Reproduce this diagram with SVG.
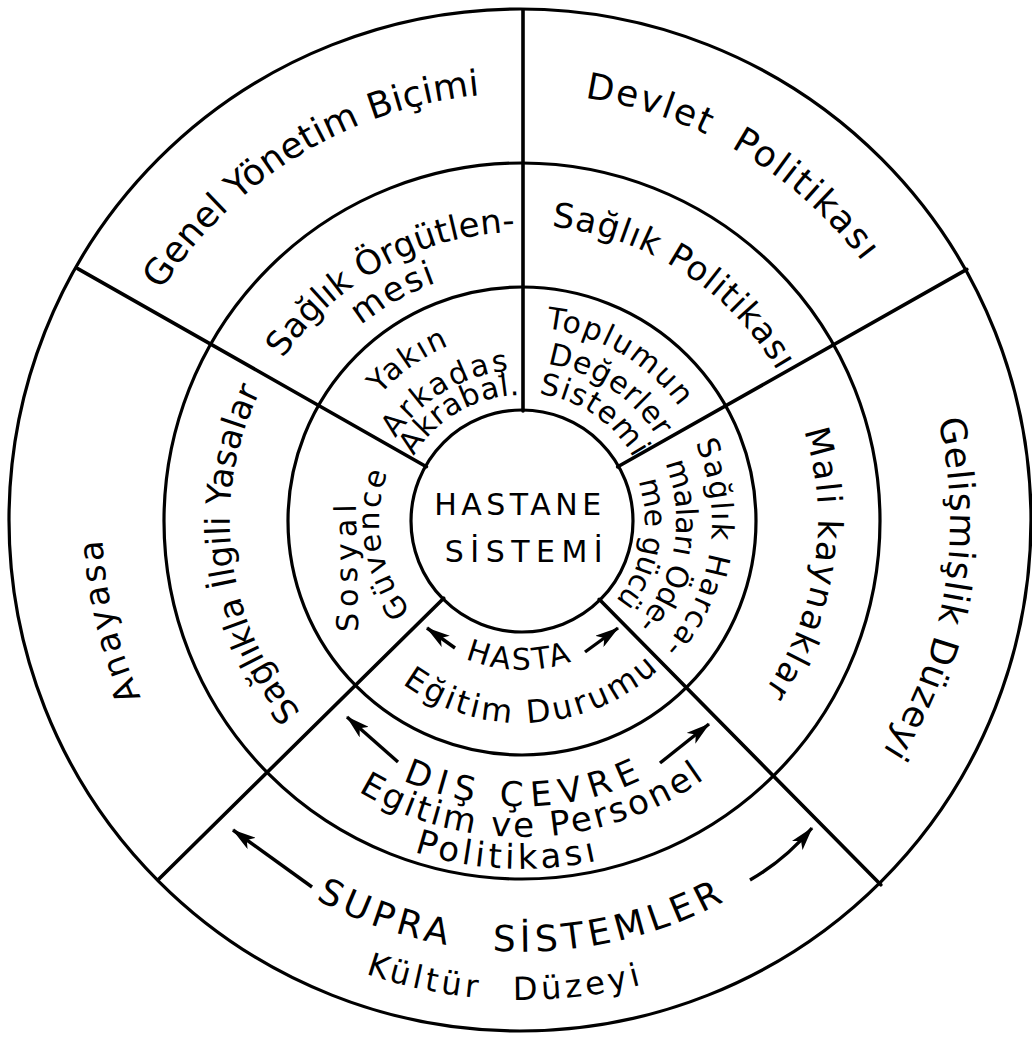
<svg xmlns="http://www.w3.org/2000/svg" width="1032" height="1041" viewBox="0 0 1032 1041">
<style>
.ring{fill:none;stroke:#000;stroke-width:3.2}
.spoke{stroke:#000;stroke-width:3.6;stroke-linecap:round}
.arr{fill:none;stroke:#000;stroke-width:3.4;marker-end:url(#ah)}
text{font-family:"DejaVu Sans","Liberation Sans",sans-serif;fill:#000}
.f30{font-size:30px}
.f32{font-size:32px}
.f34{font-size:34px}
.f36{font-size:36px}
</style>
<defs>
<marker id="ah" viewBox="0 0 24 14" refX="23" refY="7" markerWidth="24" markerHeight="14" markerUnits="userSpaceOnUse" orient="auto"><path d="M0,0 L24,7 L0,14 L6,7 z" fill="#000"/></marker>
<path id="cw428" d="M100.5,446.7 A428,428 0 0 1 943.5,446.7"/>
<path id="cw420" d="M108.4,448.1 A420,420 0 0 1 935.6,448.1"/>
<path id="cw296" d="M230.5,469.6 A296,296 0 0 1 813.5,469.6"/>
<path id="cw292" d="M234.4,470.3 A292,292 0 0 1 809.6,470.3"/>
<path id="cw289" d="M237.4,470.8 A289,289 0 0 1 806.6,470.8"/>
<path id="cw253" d="M272.8,477.1 A253,253 0 0 1 771.2,477.1"/>
<path id="cw194" d="M330.9,487.3 A194,194 0 0 1 713.1,487.3"/>
<path id="cw190" d="M334.9,488 A190,190 0 0 1 709.1,488"/>
<path id="cw159" d="M365.4,493.4 A159,159 0 0 1 678.6,493.4"/>
<path id="cw154" d="M370.3,494.3 A154,154 0 0 1 673.7,494.3"/>
<path id="cw151" d="M373.3,494.8 A151,151 0 0 1 670.7,494.8"/>
<path id="cw143" d="M381.2,496.2 A143,143 0 0 1 662.8,496.2"/>
<path id="cw128" d="M395.9,498.8 A128,128 0 0 1 648.1,498.8"/>
<path id="cw126" d="M397.9,499.1 A126,126 0 0 1 646.1,499.1"/>
<path id="cw123" d="M400.9,499.6 A123,123 0 0 1 643.1,499.6"/>
<path id="ccw149" d="M375.3,546.9 A149,149 0 0 0 668.7,546.9"/>
<path id="ccw202" d="M323.1,556.1 A202,202 0 0 0 720.9,556.1"/>
<path id="ccw285" d="M241.3,570.5 A285,285 0 0 0 802.7,570.5"/>
<path id="ccw316" d="M210.8,575.9 A316,316 0 0 0 833.2,575.9"/>
<path id="ccw348" d="M179.3,581.4 A348,348 0 0 0 864.7,581.4"/>
<path id="ccw431" d="M97.6,595.8 A431,431 0 0 0 946.4,595.8"/>
<path id="ccw479" d="M50.3,604.2 A479,479 0 0 0 993.7,604.2"/>
</defs>
<rect width="1032" height="1041" fill="#fff"/>

<g id="rings">
<circle class="ring" cx="520" cy="520" r="511"/>
<circle class="ring" cx="522" cy="521" r="358"/>
<circle class="ring" cx="522" cy="521" r="234"/>
<circle class="ring" cx="522" cy="521" r="111"/>
<line class="spoke" x1="523" y1="411" x2="523" y2="10"/>
<line class="spoke" x1="617.7" y1="466.8" x2="966.8" y2="269.4"/>
<line class="spoke" x1="426.4" y1="466.7" x2="77.7" y2="268.6"/>
<line class="spoke" x1="443.7" y1="598.2" x2="158.2" y2="879.8"/>
<line class="spoke" x1="599.2" y1="599.3" x2="880.8" y2="884.8"/>
</g>

<g id="hastane-sistemi">
<text class="f30" x="520" y="515" text-anchor="middle" letter-spacing="4.5">HASTANE</text>
<text class="f30" x="527" y="562" text-anchor="middle" letter-spacing="6.5">SİSTEMİ</text>
</g>

<g id="yakin-arkadas">
<text class="f30" transform="rotate(-35.2 522 521)" text-anchor="middle" letter-spacing="2"><textPath href="#cw190" startOffset="50%">Yakın</textPath></text>
<text class="f30" transform="rotate(-30.5 522 521)" text-anchor="middle" letter-spacing="2.5"><textPath href="#cw151" startOffset="50%">Arkadaş</textPath></text>
<text class="f30" transform="rotate(-30 522 521)" text-anchor="middle" letter-spacing="0.5"><textPath href="#cw126" startOffset="50%">Akrabal.</textPath></text>
</g>

<g id="toplumun-degerler">
<text class="f30" transform="rotate(30.8 522 521)" text-anchor="middle" letter-spacing="2"><textPath href="#cw194" startOffset="50%">Toplumun</textPath></text>
<text class="f30" transform="rotate(33.8 522 521)" text-anchor="middle" letter-spacing="0.8"><textPath href="#cw159" startOffset="50%">Değerler</textPath></text>
<text class="f30" transform="rotate(34.3 522 521)" text-anchor="middle" letter-spacing="1.3"><textPath href="#cw128" startOffset="50%">Sistemi</textPath></text>
</g>

<g id="saglik-harcamalari">
<text class="f30" transform="rotate(99 522 521)" text-anchor="middle" letter-spacing="1.7"><textPath href="#cw190" startOffset="50%">Sağlık Harca-</textPath></text>
<text class="f30" transform="rotate(99.7 522 521)" text-anchor="middle" letter-spacing="-0.5"><textPath href="#cw154" startOffset="50%">maları Öde-</textPath></text>
<text class="f30" transform="rotate(100.5 522 521)" text-anchor="middle" letter-spacing="-0.5"><textPath href="#cw123" startOffset="50%">me gücü</textPath></text>
</g>

<g id="hasta">
<text class="f30" transform="rotate(1 522 521)" text-anchor="middle" letter-spacing="2.5"><textPath href="#ccw149" startOffset="50%">HASTA</textPath></text>
<text class="f32" transform="rotate(-3.5 522 521)" text-anchor="middle" letter-spacing="3"><textPath href="#ccw202" startOffset="50%">Eğitim Durumu</textPath></text>
</g>

<g id="sosyal-guvence">
<text class="f30" transform="translate(357 565) rotate(-91)" text-anchor="middle" letter-spacing="6">Sosyal</text>
<text class="f30" transform="rotate(-99.2 522 521)" text-anchor="middle" letter-spacing="2.4"><textPath href="#cw143" startOffset="50%">Güvence</textPath></text>
</g>

<g id="saglik-orgutlenmesi">
<text class="f34" transform="rotate(-28.6 522 521)" text-anchor="middle" letter-spacing="0"><textPath href="#cw289" startOffset="50%">Sağlık Örgütlen-</textPath></text>
<text class="f34" transform="rotate(-29.4 522 521)" text-anchor="middle" letter-spacing="2"><textPath href="#cw253" startOffset="50%">mesi</textPath></text>
</g>

<g id="saglik-politikasi">
<text class="f34" transform="rotate(32.75 522 521)" text-anchor="middle" letter-spacing="1"><textPath href="#cw296" startOffset="50%">Sağlık Politikası</textPath></text>
</g>

<g id="mali-kaynaklar">
<text class="f34" transform="rotate(98.8 522 521)" text-anchor="middle" letter-spacing="2"><textPath href="#cw296" startOffset="50%">Mali kaynaklar</textPath></text>
</g>

<g id="dis-cevre">
<text class="f34" transform="rotate(-0.8 522 521)" text-anchor="middle" letter-spacing="8"><textPath href="#ccw285" startOffset="50%">DIŞ ÇEVRE</textPath></text>
<text class="f34" transform="rotate(-2.3 522 521)" text-anchor="middle" letter-spacing="3"><textPath href="#ccw316" startOffset="50%">Egitim ve Personel</textPath></text>
<text class="f34" transform="rotate(2.5 522 521)" text-anchor="middle" letter-spacing="4"><textPath href="#ccw348" startOffset="50%">Politikası</textPath></text>
</g>

<g id="saglikla-ilgili-yasalar">
<text class="f34" transform="rotate(-97.2 522 521)" text-anchor="middle" letter-spacing="0"><textPath href="#cw292" startOffset="50%">Sağlıkla İlgili Yasalar</textPath></text>
</g>

<g id="genel-yonetim">
<text class="f36" transform="rotate(-31.5 522 521)" text-anchor="middle" letter-spacing="0.3"><textPath href="#cw428" startOffset="50%">Genel Yönetim Biçimi</textPath></text>
</g>

<g id="devlet-politikasi">
<text class="f36" transform="rotate(30.7 522 521)" text-anchor="middle" letter-spacing="2" word-spacing="12"><textPath href="#cw428" startOffset="50%">Devlet Politikası</textPath></text>
</g>

<g id="gelismislik">
<text class="f36" transform="rotate(99.5 522 521)" text-anchor="middle" letter-spacing="1"><textPath href="#cw428" startOffset="50%">Gelişmişlik Düzeyi</textPath></text>
</g>

<g id="supra-sistemler">
<text class="f36" text-anchor="middle" letter-spacing="5" word-spacing="25"><textPath href="#ccw431" startOffset="50%">SUPRA SİSTEMLER</textPath></text>
<text class="f32" transform="rotate(2.1 522 521)" text-anchor="middle" letter-spacing="4" word-spacing="18"><textPath href="#ccw479" startOffset="50%">Kültür Düzeyi</textPath></text>
</g>

<g id="anayasa">
<text class="f34" transform="rotate(-103.5 522 521)" text-anchor="middle" letter-spacing="3"><textPath href="#cw420" startOffset="50%">Anayasa</textPath></text>
</g>

<g id="connectors">
<path class="arr" d="M455,648 L427,628"/>
<path class="arr" d="M585,652 L618,628"/>
<path class="arr" d="M398,762 L347,717"/>
<path class="arr" d="M660,763 L709,724"/>
<path class="arr" d="M312,887 L233,830"/>
<path class="arr" d="M750,880 Q785,860 812,828"/>
</g>
</svg>
